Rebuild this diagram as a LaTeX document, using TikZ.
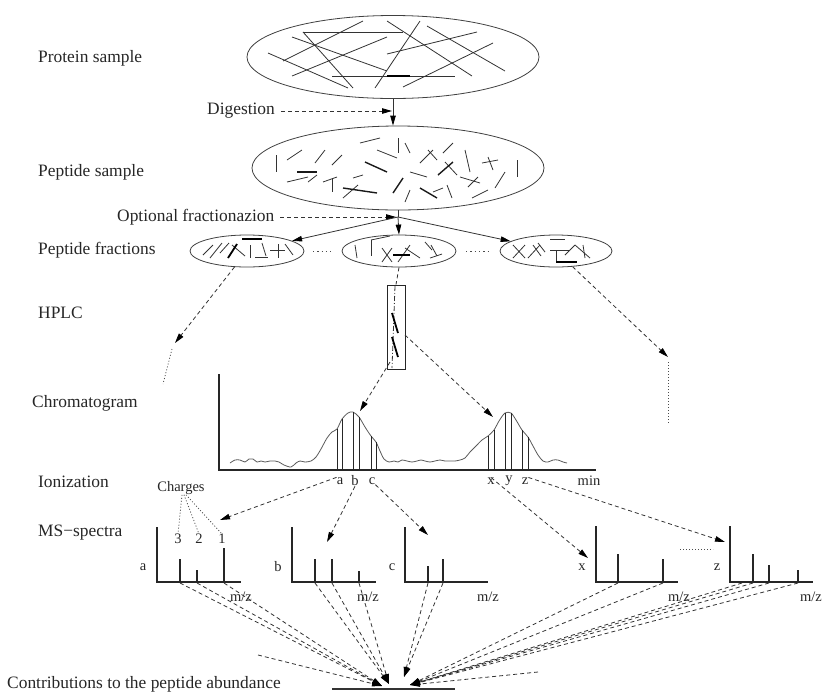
\documentclass[tikz,border=0pt]{standalone}
\usepackage{fontspec}
\setmainfont{Liberation Serif}
\usetikzlibrary{arrows.meta,shapes.geometric}
\begin{document}
\begin{tikzpicture}[x=1pt,y=-1pt,
  big/.style={font=\fontsize{17.4}{20}\selectfont, inner sep=0pt, text=black!85},
  sml/.style={font=\fontsize{14.5}{16}\selectfont, inner sep=0pt, text=black!85},
  ln/.style={line width=0.8pt, draw=black!80},
  thk/.style={line width=2pt, draw=black},
  dsh/.style={line width=0.8pt, draw=black!80, dash pattern=on 4pt off 3pt},
  dotl/.style={line width=0.8pt, draw=black!70, dash pattern=on 1pt off 2pt},
  arr/.style={-{Triangle[length=10pt,width=5.5pt,color=black]}},
  oval/.style={ellipse, draw=black!75, line width=0.8pt, inner sep=0pt},
  axis/.style={line width=1.3pt, draw=black!85},
  pk/.style={line width=1.3pt, draw=black!85}]
\useasboundingbox (0,0) rectangle (825,697);

% ---------- left labels ----------
\node[big, anchor=west] (l1) at (38,58) {Protein sample};
\node[big, anchor=west] (l2) at (38,172) {Peptide sample};
\node[big, anchor=west] (l3) at (38,250) {Peptide fractions};
\node[big, anchor=west] (l4) at (38,313) {HPLC};
\node[big, anchor=west] (l5) at (32,403) {Chromatogram};
\node[big, anchor=west] (l6) at (38,482) {Ionization};
\node[big, anchor=west] (l7) at (38,533) {MS\char"2212 spectra};
\node[big, anchor=west] (l8) at (7,684) {Contributions to the peptide abundance};

% ---------- protein sample ----------
\node[oval, minimum width=292pt, minimum height=83pt] (prot) at (393,57) {};
\foreach \ax/\ay/\bx/\by in {303/32/403/32, 303/32/353/88, 332/76/455/76, 363/21/283/61,
  292/37/387/71, 268/53/348/88, 387/37/292/76, 387/21/472/76, 420/21/375/88,
  427/26/505/71, 477/32/387/54, 493/43/403/87}
  \draw[ln] (\ax,\ay) -- (\bx,\by);
\draw[thk] (387,76) -- (410,76);

% ---------- digestion ----------
\node[big, anchor=west] (dig) at (207,111) {Digestion};
\node[oval, minimum width=292pt, minimum height=84pt] (pep) at (398,168) {};
\draw[ln, arr] (prot.south) -- (pep.north -| prot.south);
\coordinate (digpt) at (392,111);
\draw[dsh, arr] ([xshift=6pt]dig.east) -- (digpt);

% ---------- peptide pieces ----------
\foreach \ax/\ay/\bx/\by in {276/155/276/172, 287/160/302/150, 315/163/325/150, 332/165/342/155,
  360/143/380/138, 377/150/397/158, 398/138/398/153, 405/143/410/153,
  420/163/433/150, 428/150/437/160, 443/153/453/143, 445/162/457/175,
  465/150/470/172, 482/163/498/160, 488/157/493/170, 517/160/517/177,
  287/182/308/177, 308/182/317/175, 323/182/337/177, 332/178/332/192,
  343/198/358/185, 353/178/363/175, 405/202/410/190, 410/172/427/177,
  433/192/443/188, 447/185/452/198, 460/177/480/183, 468/187/478/177,
  472/198/488/190, 495/188/505/172}
  \draw[ln] (\ax,\ay) -- (\bx,\by);
\foreach \ax/\ay/\bx/\by in {365/162/387/172, 438/175/453/162, 297/172/317/172,
  343/188/377/193, 393/193/403/178, 420/188/437/198}
  \draw[line width=1.4pt, draw=black!90] (\ax,\ay) -- (\bx,\by);

% ---------- fractionation ----------
\node[big, anchor=west] (opt) at (117,217) {Optional fractionazion};
\coordinate (fork) at (398,217);
\coordinate (optpt) at (396,217);
\draw[dsh, arr] ([xshift=6pt]opt.east) -- (optpt);
\node[oval, minimum width=114pt, minimum height=32pt] (fl) at (247,251) {};
\node[oval, minimum width=114pt, minimum height=32pt] (fm) at (399,251) {};
\node[oval, minimum width=112pt, minimum height=32pt] (fr) at (556,251) {};
\draw[ln] (pep.south) -- (fork);
\draw[ln, arr] (fork) -- (fm.north);
\draw[ln, arr] (fork) -- (fl);
\draw[ln, arr] (fork) -- (fr);
\draw[dotl, dash pattern=on 1.3pt off 3pt] (313,251) -- (331,251);
\draw[dotl, dash pattern=on 1.3pt off 3pt] (466,251) -- (488,251);

% fraction contents
\foreach \ax/\ay/\bx/\by in {203/255/213/245, 210/258/222/243, 220/253/229/243,
  232/245/245/256, 250/245/250/258, 255/257/268/257, 262/243/266/256,
  270/250/285/250, 278/244/278/258, 285/244/293/255,
  355/245/357/258, 371/240/371/256, 371/240/390/236, 382/248/392/262, 382/262/392/248,
  398/262/410/245, 405/248/420/258, 425/242/432/250, 430/258/442/254, 431/245/437/256,
  513/245/525/258, 513/258/525/245, 528/258/540/245, 533/245/541/256, 538/243/545/252,
  550/239/565/239, 550/250/570/250, 556/250/556/262, 565/255/575/245, 575/245/590/258, 583/245/585/258}
  \draw[ln] (\ax,\ay) -- (\bx,\by);
\foreach \ax/\ay/\bx/\by in {228/258/237/244, 242/239/262/239, 393/255/410/255, 556/262/577/262}
  \draw[line width=1.8pt, draw=black] (\ax,\ay) -- (\bx,\by);

% ---------- HPLC ----------
\node[draw=black!85, line width=1pt, minimum width=18pt, minimum height=84pt, inner sep=0pt] (hp) at (396,327) {};
\draw[dsh] (fm.south) -- (hp.north);
\draw[line width=0.8pt, draw=black!80, dash pattern=on 5pt off 2pt on 1pt off 2pt] (395,286) -- (392,368);
\draw[line width=1.8pt] (392,313) -- (398,333);
\draw[line width=1.8pt] (392,337) -- (398,357);

\coordinate (hl) at (175,343);
\coordinate (hld) at (163,384);
\coordinate (hr) at (668,357);
\coordinate (hrd) at (668,424);
\draw[dsh, arr] (fl) -- (hl);
\draw[dotl] (172,349) -- (hld);
\draw[dsh, arr] (fr) -- (hr);
\draw[dotl] (668,362) -- (hrd);

% ---------- chromatogram ----------
\draw[axis] (219,374) -- (219,470) -- (596,470);
\draw[line width=0.8pt, draw=black!65] plot[smooth, tension=0.5] coordinates {
 (230,463) (235,460) (240,460) (245,462) (249,459) (253,459) (257,462) (261,461) (265,462)
 (270,461) (275,461) (279,462) (284,465) (291,467) (296,463) (300,461) (305,462) (311,461)
 (316,457) (321,449) (327,438) (332,432) (337,429) (342,419) (348,413) (353,412) (359,417)
 (365,427) (371,436) (376,442) (380,451) (384,459) (389,462) (394,461) (398,462) (402,460)
 (407,461) (412,462) (417,461) (421,460) (425,461) (430,462) (435,461) (440,460) (445,461)
 (450,461) (455,461) (460,460) (465,458) (470,452) (476,446) (482,440) (488,436) (494,430)
 (499,421) (505,413) (511,413) (516,420) (522,430) (528,437) (533,446) (538,455) (543,461)
 (548,462) (553,460) (558,460) (563,462) (567,463)};
\foreach \px/\py in {337/429, 342/419, 353/412, 359/417, 371/436, 376/442,
  488/436, 494/430, 505/413, 511/413, 522/430, 528/437}
  \draw[line width=1pt, draw=black!85] (\px,470) -- (\px,\py);

\coordinate (pkL) at (360,411);
\coordinate (pkR) at (493,417);
\coordinate (hps) at (390,362);
\coordinate (hpe) at (405,335);
\draw[dsh, arr] (hps) -- (pkL);
\draw[dsh, arr] (hpe) -- (pkR);

\node[sml] (la) at (340,481) {a};
\node[sml] (lb) at (355,481) {b};
\node[sml] (lc) at (372,481) {c};
\node[sml] (lx) at (491,481) {x};
\node[sml] (ly) at (509,481) {y};
\node[sml] (lz) at (525,481) {z};
\node[sml] (lmin) at (589,481) {min};

% ---------- MS spectra ----------
\coordinate (sa) at (220,520);
\coordinate (sb) at (327,542);
\coordinate (sc) at (428,535);
\coordinate (sx) at (588,558);
\coordinate (sz) at (725,542);
\draw[dsh, arr] (la.north west) -- (sa);
\draw[dsh, arr] (lb.south) -- (sb);
\draw[dsh, arr] (lc.south east) -- (sc);
\draw[dsh, arr] (lx.north) -- (sx);
\draw[dsh, arr] (lz.north east) -- (sz);

\node[sml] (chg) at (181,488) {Charges};
\node[sml] (c3) at (178,539) {3};
\node[sml] (c2) at (199,539) {2};
\node[sml] (c1) at (222,539) {1};
\draw[dotl] (chg.south) ++(1,0) -- (c3.north);
\draw[dotl] (chg.south) ++(3,0) -- (c2.north);
\draw[dotl] (chg.south) ++(5,0) -- (c1.north);

% spectrum a
\draw[axis] (157,527) -- (157,582) -- (241,582);
\draw[pk] (180,582) -- (180,559);
\draw[pk] (197,582) -- (197,570);
\draw[pk] (224,582) -- (224,548);
\node[sml] (na) at (143,567) {a};
\node[sml] (ma) at (241,597) {m/z};
% spectrum b
\draw[axis] (292,527) -- (292,582) -- (376,582);
\draw[pk] (315,582) -- (315,559);
\draw[pk] (332,582) -- (332,559);
\draw[pk] (359,582) -- (359,571);
\node[sml] (nb) at (278,567) {b};
\node[sml] (mb) at (368,597) {m/z};
% spectrum c
\draw[axis] (405,527) -- (405,582) -- (488,582);
\draw[pk] (428,582) -- (428,566);
\draw[pk] (443,582) -- (443,559);
\node[sml] (nc) at (392,567) {c};
\node[sml] (mc) at (488,597) {m/z};
% spectrum x
\draw[axis] (596,526) -- (596,582) -- (678,582);
\draw[pk] (618,582) -- (618,554);
\draw[pk] (663,582) -- (663,559);
\node[sml] (nx) at (582,567) {x};
\node[sml] (mx) at (679,597) {m/z};
\draw[dotl] (680,549) -- (713,549);
% spectrum z
\draw[axis] (730,526) -- (730,582) -- (813,582);
\draw[pk] (753,582) -- (753,554);
\draw[pk] (769,582) -- (769,565);
\draw[pk] (798,582) -- (798,570);
\node[sml] (nz) at (717,567) {z};
\node[sml] (mz) at (811,597) {m/z};

% ---------- contributions ----------
\draw[line width=1.3pt, draw=black!80] (332,689) -- (455,689);
\coordinate (t1) at (382,686);
\coordinate (t2) at (389,684);
\coordinate (t3) at (404,677);
\coordinate (t4) at (410,685);
\coordinate (fl1) at (258,655);
\coordinate (fr1) at (538,672);
\foreach \px in {180,197,224}
  \draw[dsh, arr] (\px,583) -- (t1);
\foreach \px in {315,332,359}
  \draw[dsh, arr] (\px,583) -- (t2);
\foreach \px in {428,443}
  \draw[dsh, arr] (\px,583) -- (t3);
\foreach \px in {618,663,742,753,769,798}
  \draw[dsh, arr] (\px,583) -- (t4);
\draw[dsh, arr] (fl1) -- (t1);
\draw[dsh, arr] (fr1) -- (t4);
\end{tikzpicture}
\end{document}
